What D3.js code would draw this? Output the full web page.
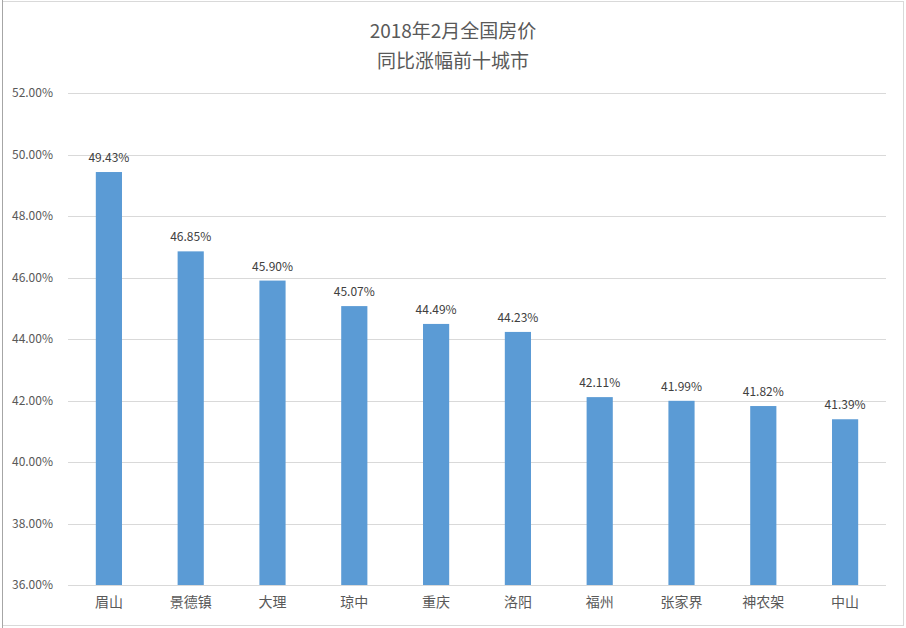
<!DOCTYPE html>
<html lang="zh">
<head>
<meta charset="UTF-8">
<title>2018年2月全国房价同比涨幅前十城市</title>
<style>
    body { margin: 0; padding: 0; background: #ffffff; }
    svg { display: block; }
</style>
<script src="https://d3js.org/d3.v7.min.js"></script>
</head>
<body>
<script>
    const width = 906;
    const height = 628;

    const cities = ["眉山", "景德镇", "大理", "琼中", "重庆", "洛阳", "福州", "张家界", "神农架", "中山"];
    const growth = [49.43, 46.85, 45.90, 45.07, 44.49, 44.23, 42.11, 41.99, 41.82, 41.39];
    const yTicks = [36, 38, 40, 42, 44, 46, 48, 50, 52];
    const titleLines = ["2018年2月全国房价", "同比涨幅前十城市"];

    const font = "'Noto Sans CJK SC', 'Noto Sans', sans-serif";
    const textColor = "#595959";

    const margin = {top: 93, right: 20, bottom: 43, left: 68};

    const svg = d3.select("body").append("svg")
        .attr("width", width)
        .attr("height", height);

    // chart frame
    svg.append("rect")
        .attr("x", 2.5).attr("y", 1.5)
        .attr("width", 901).attr("height", 624)
        .attr("fill", "#fff")
        .attr("stroke", "#d9d9d9");
    svg.append("line")
        .attr("x1", 2.5).attr("x2", 2.5).attr("y1", 0).attr("y2", height)
        .attr("stroke", "#a6a6a6");

    const x = d3.scaleBand()
        .domain(cities)
        .range([margin.left, width - margin.right])
        .paddingInner(0.68)
        .paddingOuter(0.34);

    const y = d3.scaleLinear()
        .domain([36, 52])
        .range([height - margin.bottom, margin.top]);

    // gridlines
    svg.append("g")
        .selectAll("line")
        .data(yTicks)
        .join("line")
        .attr("x1", margin.left)
        .attr("x2", width - margin.right)
        .attr("y1", d => Math.round(y(d)) + 0.5)
        .attr("y2", d => Math.round(y(d)) + 0.5)
        .attr("stroke", "#d9d9d9");

    // y axis labels
    const yAxis = d3.axisLeft(y)
        .tickValues(yTicks)
        .tickSize(0)
        .tickPadding(15)
        .tickFormat(d => d.toFixed(2) + "%");
    svg.append("g")
        .attr("transform", `translate(${margin.left},0)`)
        .call(yAxis)
        .call(g => g.select(".domain").remove())
        .selectAll("text")
        .attr("font-family", font)
        .attr("font-size", 12)
        .attr("fill", textColor);

    // bars
    svg.append("g")
        .selectAll("rect")
        .data(growth)
        .join("rect")
        .attr("x", (d, i) => x(cities[i]))
        .attr("y", d => y(d))
        .attr("width", x.bandwidth())
        .attr("height", d => y(36) - y(d))
        .attr("fill", "#5b9bd5");

    // data labels
    svg.append("g")
        .selectAll("text")
        .data(growth)
        .join("text")
        .attr("x", (d, i) => x(cities[i]) + x.bandwidth() / 2)
        .attr("y", d => y(d) - 10)
        .attr("text-anchor", "middle")
        .attr("font-family", font)
        .attr("font-size", 12)
        .attr("fill", "#404040")
        .text(d => d.toFixed(2) + "%");

    // x axis labels
    const xAxis = d3.axisBottom(x).tickSize(0).tickPadding(12);
    svg.append("g")
        .attr("transform", `translate(0,${height - margin.bottom})`)
        .call(xAxis)
        .call(g => g.select(".domain").remove())
        .selectAll("text")
        .attr("font-family", font)
        .attr("font-size", 14)
        .attr("fill", textColor);

    // title
    svg.append("g")
        .selectAll("text")
        .data(titleLines)
        .join("text")
        .attr("x", 453)
        .attr("y", (d, i) => 38 + i * 30)
        .attr("text-anchor", "middle")
        .attr("font-family", font)
        .attr("font-size", 19)
        .attr("fill", textColor)
        .text(d => d);
</script>
</body>
</html>
